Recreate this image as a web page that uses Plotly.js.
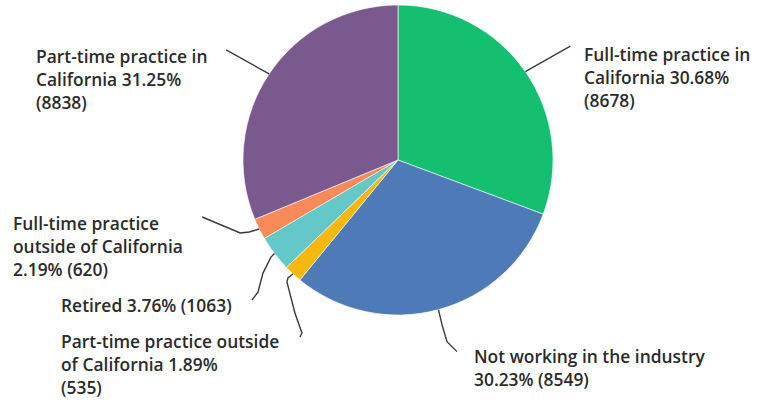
<!DOCTYPE html>
<html>
<head>
<meta charset="utf-8">
<script src="https://cdn.plot.ly/plotly-3.0.1.min.js"></script>
<style>html,body{margin:0;padding:0;background:#fff;}#chart{width:761px;height:402px;}</style>
</head>
<body>
<div id="chart"></div>
<script>
// ---- data ----
const categories = [
  "Full-time practice in California",
  "Not working in the industry",
  "Part-time practice outside of California",
  "Retired",
  "Full-time practice outside of California",
  "Part-time practice in California"
];
const counts = [8678, 8549, 535, 1063, 620, 8838];
const percents = ["30.68%", "30.23%", "1.89%", "3.76%", "2.19%", "31.25%"];
const labelLines = [
  ["Full-time practice in", "California 30.68%", "(8678)"],
  ["Not working in the industry", "30.23% (8549)"],
  ["Part-time practice outside", "of California 1.89%", "(535)"],
  ["Retired 3.76% (1063)"],
  ["Full-time practice", "outside of California", "2.19% (620)"],
  ["Part-time practice in", "California 31.25%", "(8838)"]
];

// ---- styling / layout ----
const colors = ["#14BF70", "#4F7AB8", "#F6B70E", "#65C8C8", "#F88A5A", "#7A5A8E"];
const W = 761, H = 402;
const cx = 398, cy = 160, R = 155;
// label anchor (left x, first line center y) in pixels
const labelPos = [[583, 54], [473, 356], [60, 341], [60, 305], [12, 223], [35, 56]];
const lineGap = 23;
// leader line bend offsets relative to slice edge midpoint (pixels)
const leaderOffsets = [
  [[45, -25.5]],
  [[3.5, 15], [8.5, 32], [18.5, 42]],
  [[-5, 4], [-6, 8], [2, 39], [9, 59], [7, 63]],
  [[-3.5, 3.5], [-11.5, 19.5], [-16.5, 38.5], [-22.5, 46.5]],
  [[-10, 3], [-19, 4], [-57, -12]],
  [[-43, -24]]
];

const px = x => x / W;
const py = y => 1 - y / H;

const total = counts.reduce((a, b) => a + b, 0);
let cum = 0;
const shapes = [];
counts.forEach((v, i) => {
  const mid = (cum + v / 2) / total * 2 * Math.PI;
  cum += v;
  const ex = cx + R * Math.sin(mid);
  const ey = cy - R * Math.cos(mid);
  let d = `M ${px(ex)} ${py(ey)}`;
  leaderOffsets[i].forEach(o => { d += ` L ${px(ex + o[0])} ${py(ey + o[1])}`; });
  shapes.push({type: 'path', xref: 'paper', yref: 'paper', path: d,
    line: {color: '#3a3a3a', width: 1.4}});
});

const annotations = [];
labelLines.forEach((lines, i) => {
  lines.forEach((t, j) => {
    annotations.push({
      xref: 'paper', yref: 'paper',
      x: px(labelPos[i][0]), y: py(labelPos[i][1] + j * lineGap),
      xanchor: 'left', yanchor: 'middle', showarrow: false,
      text: t, align: 'left', borderpad: 0,
      font: {family: '"Open Sans", Roboto, sans-serif', size: 17.4, color: '#2b2b2b', weight: 600}
    });
  });
});

const trace = {
  type: 'pie',
  labels: categories,
  values: counts,
  sort: false,
  direction: 'clockwise',
  rotation: 0,
  textinfo: 'none',
  hoverinfo: 'label+percent+value',
  marker: {colors: colors, line: {color: '#ffffff', width: 0.6}},
  domain: {x: [(cx - R) / W, (cx + R) / W], y: [1 - (cy + R) / H, 1 - (cy - R) / H]},
  showlegend: false
};

Plotly.newPlot('chart', [trace], {
  width: W, height: H,
  margin: {l: 0, r: 0, t: 0, b: 0},
  paper_bgcolor: '#ffffff',
  showlegend: false,
  shapes: shapes,
  annotations: annotations
}, {displayModeBar: false, staticPlot: true});
</script>
</body>
</html>
